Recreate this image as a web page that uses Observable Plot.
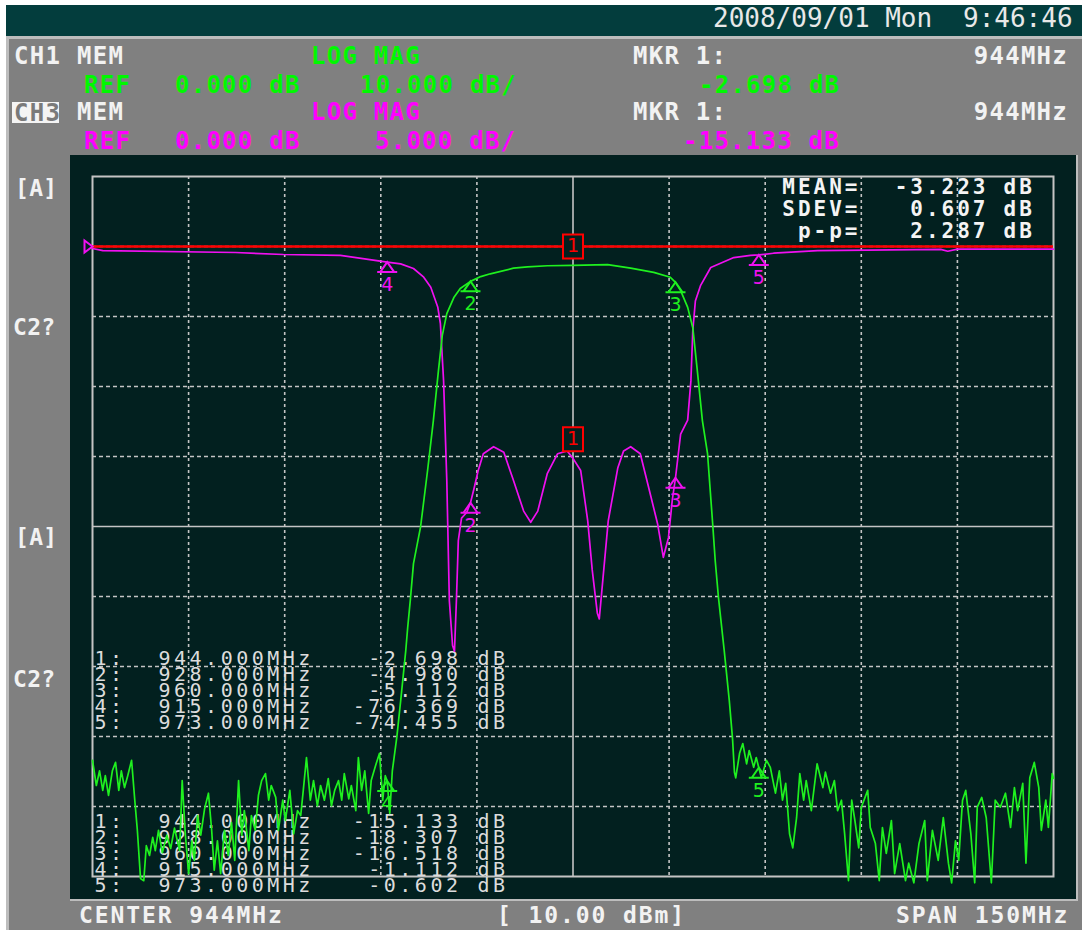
<!DOCTYPE html>
<html>
<head>
<meta charset="utf-8">
<script src="https://cdn.jsdelivr.net/npm/d3@7"></script>
<script src="https://cdn.jsdelivr.net/npm/@observablehq/plot@0.6"></script>
<style>
html, body { margin: 0; padding: 0; background: #fff; }
#page { position: relative; width: 1082px; height: 930px; overflow: hidden; background: #fff; }
.abs { position: absolute; }
.t { position: absolute; white-space: pre; font-family: "DejaVu Sans Mono", monospace; }
.date { font-size: 26px; line-height: 26px; font-weight: normal; color: #e8e8e8; }
.hdr { font-size: 24px; line-height: 24px; font-weight: bold; letter-spacing: 1.25px; color: #f2f2f2; }
.side { font-size: 23px; line-height: 23px; font-weight: bold; letter-spacing: 0.3px; color: #f2f2f2; }
.foot { font-size: 23px; line-height: 23px; font-weight: bold; letter-spacing: 1.9px; color: #f2f2f2; }
#plotbox svg { display: block; }
#plotbox g[font-size="20"], #plotbox g[font-size="20"] text { letter-spacing: 3.5px; }
#plotbox g[font-size="21"], #plotbox g[font-size="21"] text { letter-spacing: 3px; }
</style>
</head>
<body>
<div id="page">
  <div class="abs" style="left:6px;top:5px;width:1076px;height:31px;background:#033d3d"></div>
  <div class="abs" style="left:6px;top:36px;width:1076px;height:3px;background:#bdbdbd"></div>
  <div class="abs" style="left:6px;top:39px;width:1076px;height:891px;background:#808080"></div>
  <div class="abs" style="left:6px;top:39px;width:3px;height:891px;background:#bdbdbd"></div>
  <div id="plotbox" class="abs" style="left:70px;top:155px;width:1006px;height:744px;"></div>
  <div class="abs" style="left:70px;top:899px;width:1008px;height:2px;background:#bdbdbd"></div>
  <div class="abs" style="left:1076px;top:155px;width:2px;height:746px;background:#bdbdbd"></div>
</div>
<script>
// ---------------- data ----------------
const centerFreq = 944;          // MHz
const spanFreq = 150;            // MHz
const refLevel = 0;              // dB
const ch1PerDiv = 10;            // dB/div
const ch3PerDiv = 5;             // dB/div
const freqGrid = [884, 899, 914, 929, 944, 959, 974, 989, 1004];
const dbGrid = [0, -10, -20, -30, -40, -50, -60, -70, -80];

// CH1 (transmission, green)
const ch1Freq = [
  869.0, 869.6, 870.1, 870.6, 871.0, 871.5, 872.1, 872.6, 873.1, 873.5,
  874.0, 874.5, 875.1, 875.6, 876.0, 876.5, 877.0, 877.4, 877.9, 878.4,
  878.8, 879.3, 879.9, 880.6, 881.2, 881.8, 882.6, 883.0, 883.5, 884.0,
  884.5, 884.9, 885.4, 885.9, 886.5, 887.1, 887.6, 888.0, 888.5, 889.0,
  889.6, 890.2, 890.7, 891.2, 891.8, 892.3, 892.7, 893.4, 893.8, 894.4,
  894.9, 895.4, 896.0, 896.5, 896.9, 897.6, 898.0, 898.7, 899.1, 899.8,
  900.4, 901.0, 901.5, 901.9, 902.4, 903.0, 903.5, 904.1, 904.6, 905.2,
  905.8, 906.3, 906.8, 907.4, 907.9, 908.3, 909.0, 909.4, 910.1, 910.5,
  911.0, 911.5, 912.1, 912.5, 913.2, 913.8, 914.3, 914.7, 915.0, 915.4,
  915.8, 916.5, 917.1, 917.9, 918.2, 918.6, 919.1, 920.2, 921.3, 922.2,
  923.0, 923.6, 924.3, 925.4, 926.4, 928.0, 929.6, 931.1, 934.7, 936.9,
  940.0, 944.0, 949.4, 953.0, 956.6, 959.2, 960.0, 960.8, 961.9, 962.7,
  963.4, 964.2, 965.0, 965.8, 966.2, 966.7, 967.6, 968.4, 968.9, 969.2,
  969.4, 970.0, 970.5, 971.1, 971.5, 972.2, 972.6, 973.0, 973.4, 974.2,
  974.8, 975.6, 976.2, 976.7, 977.2, 977.8, 978.3, 978.9, 979.4, 980.0,
  980.4, 981.2, 982.1, 983.0, 983.4, 984.2, 984.8, 985.3, 985.9, 986.4,
  987.0, 987.5, 988.0, 988.6, 989.0, 990.0, 990.4, 991.2, 991.8, 992.3,
  992.9, 993.7, 994.2, 995.0, 995.9, 996.4, 997.2, 998.0, 998.9, 999.3,
  1000.1, 1001.0, 1001.8, 1002.6, 1003.1, 1003.7, 1004.2, 1004.8, 1005.3, 1006.1,
  1006.7, 1007.1, 1007.8, 1008.5, 1009.3, 1009.9, 1010.7, 1011.5, 1012.3, 1012.9,
  1013.4, 1014.2, 1014.7, 1015.3, 1016.0, 1016.7, 1017.1, 1017.8, 1018.2, 1018.8,
  1019.0
];
const ch1Db = [
  -73.4, -77.0, -74.9, -77.7, -75.6, -78.4, -74.9, -73.7, -77.7, -74.9,
  -77.3, -75.6, -73.4, -79.1, -83.4, -90.3, -90.6, -85.6, -87.0, -84.4,
  -86.3, -83.4, -86.6, -84.1, -86.0, -83.1, -86.3, -76.3, -84.1, -89.6,
  -84.9, -87.7, -81.3, -84.1, -80.3, -78.1, -83.4, -89.1, -84.9, -89.6,
  -83.4, -87.0, -82.3, -87.7, -76.3, -84.1, -80.6, -86.3, -81.3, -83.4,
  -78.4, -76.3, -75.3, -79.1, -77.0, -78.7, -83.4, -79.1, -82.0, -77.7,
  -83.9, -80.6, -81.3, -77.7, -73.0, -79.1, -76.3, -79.9, -77.0, -79.1,
  -76.0, -79.9, -77.7, -76.3, -79.1, -75.3, -78.9, -77.0, -80.6, -73.0,
  -77.7, -74.9, -81.0, -76.3, -74.1, -72.4, -79.1, -75.6, -76.369, -81.0,
  -74.9, -70.1, -64.9, -57.7, -54.4, -50.6, -45.3, -40.1, -32.0, -24.9,
  -17.7, -12.7, -9.6, -7.3, -6.0, -4.98, -4.3, -3.9, -3.1, -2.9,
  -2.75, -2.698, -2.6, -3.1, -3.7, -4.4, -5.112, -6.3, -8.7, -11.6,
  -17.7, -24.9, -29.6, -39.6, -44.9, -50.1, -57.7, -64.9, -70.3, -75.1,
  -75.9, -72.4, -71.0, -73.9, -72.0, -74.4, -73.0, -74.455, -75.9, -73.4,
  -74.4, -78.1, -74.9, -79.1, -76.7, -83.9, -85.9, -81.6, -75.3, -79.1,
  -76.3, -80.6, -73.9, -77.3, -75.1, -78.1, -76.3, -80.6, -79.1, -83.9,
  -90.6, -79.1, -82.0, -85.9, -80.1, -77.7, -83.0, -85.3, -90.6, -83.0,
  -86.7, -82.0, -89.6, -85.3, -90.6, -88.1, -90.9, -85.3, -82.0, -90.6,
  -83.4, -87.7, -81.6, -88.1, -90.9, -84.9, -87.7, -79.1, -77.7, -83.9,
  -90.9, -80.1, -78.7, -81.6, -90.9, -79.1, -80.1, -78.1, -83.0, -77.3,
  -80.6, -76.7, -88.1, -75.9, -73.7, -77.3, -83.4, -79.1, -83.0, -75.3,
  -76.0
];

// CH3 (reflection, magenta)
const ch3Freq = [
  869.0, 870.6, 891.3, 898.8, 907.7, 910.4, 913.9, 915.0, 917.1, 919.1,
  920.7, 921.8, 922.9, 923.3, 923.8, 924.3, 924.7, 925.2, 925.5, 925.8,
  926.1, 926.6, 927.4, 928.0, 928.6, 929.2, 930.0, 931.6, 933.2, 934.7,
  936.3, 937.4, 938.5, 940.0, 941.6, 943.1, 944.0, 945.2, 946.3, 947.0,
  947.8, 948.1, 948.8, 949.5, 951.0, 951.9, 953.0, 954.5, 955.8, 957.2,
  958.1, 958.9, 959.5, 960.0, 960.8, 961.9, 962.4, 962.7, 963.1, 963.9,
  965.5, 969.1, 971.7, 973.0, 975.3, 982.2, 1001.4, 1002.5, 1004.0, 1019.0
];
const ch3Db = [
  -0.14, -0.29, -0.43, -0.57, -0.64, -0.81, -1.05, -1.112, -1.24, -1.57,
  -2.19, -2.91, -4.34, -5.5, -9.6, -16.7, -25.3, -28.5, -28.9, -25.3,
  -21.0, -19.4, -19.0, -18.307, -17.2, -16.0, -14.8, -14.3, -14.7, -16.7,
  -18.9, -19.7, -18.9, -16.2, -14.8, -14.6, -15.133, -16.0, -19.6, -23.1,
  -26.2, -26.6, -23.1, -19.6, -15.8, -14.6, -14.3, -14.8, -17.2, -19.8,
  -22.2, -20.8, -18.1, -16.518, -13.4, -12.4, -9.6, -6.0, -3.9, -2.8,
  -1.5, -0.79, -0.64, -0.602, -0.48, -0.29, -0.21, -0.34, -0.19, -0.19
];

// markers
const markerNo = [1, 2, 3, 4, 5];
const markerFreq = [944, 928, 960, 915, 973];
const ch1MarkerDb = [-2.698, -4.980, -5.112, -76.369, -74.455];
const ch3MarkerDb = [-15.133, -18.307, -16.518, -1.112, -0.602];

// statistics
const statLabels = ["MEAN=", "SDEV=", "p-p="];
const statValues = [-3.223, 0.607, 2.287];
const statUnit = "dB";

// ---------------- colours ----------------
const GREEN = "#1ff01f", MAGENTA = "#f010f0", RED = "#ff0000";
const TXT_G = "#00f800", TXT_M = "#ff00ff", WHITE = "#f2f2f2";
const BG = "#02201f", GRID = "#c4c4c4";
const ch3Factor = ch1PerDiv / ch3PerDiv;

// ---------------- HTML text (header / side / footer) ----------------
const page = document.getElementById("page");
const fsize = {date: 26, hdr: 24, side: 23, foot: 23};
function txt(str, x, cy, cls, color, alignRight) {
  const el = document.createElement("div");
  el.className = "t " + cls;
  el.textContent = str;
  if (alignRight) el.style.right = x + "px"; else el.style.left = x + "px";
  el.style.top = (cy - 0.481 * fsize[cls]) + "px";
  if (color) el.style.color = color;
  page.appendChild(el);
  return el;
}
const fmtDb = v => v.toFixed(3) + " dB";
const fmtPer = v => v.toFixed(3) + " dB/";

txt("2008/09/01 Mon", 713, 18, "date");
txt("9:46:46", 963, 18, "date");

txt("CH1", 14, 56, "hdr", WHITE);
txt("MEM", 77, 56, "hdr", WHITE);
txt("LOG MAG", 311, 56, "hdr", TXT_G);
txt("MKR 1:", 633, 56, "hdr", WHITE);
txt(markerFreq[0] + "MHz", 14, 56, "hdr", WHITE, true);

txt("REF", 84, 85, "hdr", TXT_G);
txt(fmtDb(refLevel), 175, 85, "hdr", TXT_G);
txt(fmtPer(ch1PerDiv), 360, 85, "hdr", TXT_G);
txt(fmtDb(ch1MarkerDb[0]), 699, 85, "hdr", TXT_G);

const box = document.createElement("div");
box.className = "abs";
box.style.cssText = "left:12px;top:102px;width:47px;height:21px;background:#f4f4f4";
page.appendChild(box);
txt("CH3", 14, 112.5, "hdr", "#7a7a7a");
txt("MEM", 77, 112, "hdr", WHITE);
txt("LOG MAG", 311, 112, "hdr", TXT_M);
txt("MKR 1:", 633, 112, "hdr", WHITE);
txt(markerFreq[0] + "MHz", 14, 112, "hdr", WHITE, true);

txt("REF", 84, 141, "hdr", TXT_M);
txt(fmtDb(refLevel), 175, 141, "hdr", TXT_M);
txt(fmtPer(ch3PerDiv), 375, 141, "hdr", TXT_M);
txt(fmtDb(ch3MarkerDb[0]), 683, 141, "hdr", TXT_M);

txt("[A]", 15, 188, "side");
txt("C2?", 13, 327, "side");
txt("[A]", 15, 537, "side");
txt("C2?", 13, 679, "side");

txt("CENTER " + centerFreq + "MHz", 79, 915, "foot");
txt("[ 10.00 dBm]", 497, 915, "foot");
txt("SPAN " + spanFreq + "MHz", 896, 915, "foot");

// ---------------- plot ----------------
const ch1 = ch1Freq.map((f, i) => ({f, v: ch1Db[i]}));
const ch3 = ch3Freq.map((f, i) => ({f, v: ch3Db[i]}));
const ch1Markers = markerNo.map((n, i) => ({n, f: markerFreq[i], v: ch1MarkerDb[i]}));
const ch3Markers = markerNo.map((n, i) => ({n, f: markerFreq[i], v: ch3MarkerDb[i]}));

const triSym = {draw(c) { c.moveTo(0, 0); c.lineTo(7, 10); c.lineTo(-7, 10); c.closePath(); c.moveTo(-10, 10); c.lineTo(10, 10); }};
const boxSym = {draw(c) { c.rect(-10, -31, 20, 24); }};
const refSym = {draw(c) { c.moveTo(0, 0); c.lineTo(-8, -6); c.lineTo(-8, 6); c.closePath(); }};

const fmin = centerFreq - spanFreq / 2, fmax = centerFreq + spanFreq / 2;
const ytop = refLevel + ch1PerDiv, ybot = refLevel - 9 * ch1PerDiv;

const idxCol = markerNo.map(n => n + ":").join("\n");
const freqCol = markerFreq.map(f => f.toFixed(3) + "MHz").join("\n");
const unitCol = markerNo.map(() => "dB").join("\n");
const tbl = (str, dx, dy, anchor) => Plot.text([str], {
  text: d => d, frameAnchor: "top-left", dx, dy, textAnchor: anchor, lineAnchor: "top",
  lineHeight: 0.8, fontSize: 20, fontFamily: "DejaVu Sans Mono", fill: "#dcdcdc"
});
const stat = (str, dx, anchor) => Plot.text([str], {
  text: d => d, frameAnchor: "top-right", dx, dy: 2.2, textAnchor: anchor, lineAnchor: "top",
  lineHeight: 22 / 21, fontSize: 21, fontWeight: "bold", fontFamily: "DejaVu Sans Mono", fill: "#f4f4f4"
});
const digitStyle = {fontSize: 19, fontFamily: "DejaVu Sans"};

const plot = Plot.plot({
  width: 1006, height: 744,
  marginLeft: 22, marginTop: 21, marginRight: 23, marginBottom: 23,
  x: {domain: [fmin, fmax], axis: null},
  y: {domain: [ybot, ytop], axis: null},
  style: {background: BG, overflow: "visible"},
  marks: [
    Plot.ruleX(freqGrid.filter(f => f !== centerFreq), {stroke: GRID, strokeWidth: 1.6, strokeDasharray: "3,3"}),
    Plot.ruleY(dbGrid.filter(d => d !== -40), {stroke: GRID, strokeWidth: 1.6, strokeDasharray: "4,3"}),
    Plot.ruleX([centerFreq], {stroke: GRID, strokeWidth: 1.6}),
    Plot.ruleY([-40], {stroke: GRID, strokeWidth: 1.6}),
    Plot.frame({stroke: GRID, strokeWidth: 2}),

    tbl(idxCol, 2, 477, "start"),
    tbl(freqCol, 66, 477, "start"),
    tbl(ch1MarkerDb.map(v => v.toFixed(3)).join("\n"), 369, 477, "end"),
    tbl(unitCol, 385, 477, "start"),
    tbl(idxCol, 2, 640, "start"),
    tbl(freqCol, 66, 640, "start"),
    tbl(ch3MarkerDb.map(v => v.toFixed(3)).join("\n"), 369, 640, "end"),
    tbl(unitCol, 385, 640, "start"),

    stat(statLabels.join("\n"), -193, "end"),
    stat(statValues.map(v => v.toFixed(3)).join("\n"), -65, "end"),
    stat(statLabels.map(() => statUnit).join("\n"), -50, "start"),

    Plot.line(ch3, {x: "f", y: d => d.v * ch3Factor, stroke: MAGENTA, strokeWidth: 1.7}),
    Plot.line(ch1, {x: "f", y: "v", stroke: GREEN, strokeWidth: 1.7}),
    Plot.ruleY([refLevel], {stroke: RED, strokeWidth: 2.5}),
    Plot.dot([refLevel], {x: () => fmin, y: d => d, symbol: refSym, stroke: MAGENTA, fill: "none", strokeWidth: 2}),

    // CH1 markers
    Plot.dot(ch1Markers.filter(d => d.n !== 1), {x: "f", y: "v", symbol: triSym, stroke: GREEN, fill: "none", strokeWidth: 2}),
    Plot.text(ch1Markers.filter(d => d.n !== 1), {x: "f", y: "v", text: d => String(d.n), dy: 23, fill: GREEN, ...digitStyle}),
    Plot.dot(ch1Markers.filter(d => d.n === 1), {x: "f", y: "v", symbol: boxSym, stroke: RED, fill: BG, strokeWidth: 2}),
    Plot.text(ch1Markers.filter(d => d.n === 1), {x: "f", y: "v", text: d => String(d.n), dy: -19, fill: RED, ...digitStyle}),

    // CH3 markers
    Plot.dot(ch3Markers.filter(d => d.n !== 1), {x: "f", y: d => d.v * ch3Factor, symbol: triSym, stroke: MAGENTA, fill: "none", strokeWidth: 2}),
    Plot.text(ch3Markers.filter(d => d.n !== 1), {x: "f", y: d => d.v * ch3Factor, text: d => String(d.n), dy: 23, fill: MAGENTA, ...digitStyle}),
    Plot.dot(ch3Markers.filter(d => d.n === 1), {x: "f", y: d => d.v * ch3Factor, symbol: boxSym, stroke: RED, fill: BG, strokeWidth: 2}),
    Plot.text(ch3Markers.filter(d => d.n === 1), {x: "f", y: d => d.v * ch3Factor, text: d => String(d.n), dy: -19, fill: RED, ...digitStyle})
  ]
});
document.getElementById("plotbox").appendChild(plot);
</script>
</body>
</html>
